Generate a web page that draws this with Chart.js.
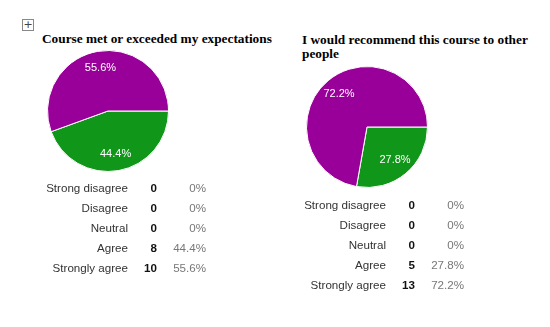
<!DOCTYPE html>
<html>
<head>
<meta charset="utf-8">
<script src="https://cdn.jsdelivr.net/npm/chart.js@4"></script>
<style>
  body { margin: 0; background: #fff; width: 550px; height: 327px; position: relative; overflow: hidden; font-family: "Liberation Sans", Arial, sans-serif; }
  .handle { position: absolute; left: 22px; top: 19px; width: 10px; height: 10px; border: 1px solid #888; font: 11px/10px "DejaVu Sans", sans-serif; text-align: center; color: #444; }
  .title { position: absolute; font: bold 13.3px/14px "Liberation Serif", serif; color: #000; }
  .pie { position: absolute; width: 122px; height: 122px; }
  .row { position: absolute; height: 16px; line-height: 16px; font-size: 11.6px; }
  .row span { position: absolute; top: 0; white-space: nowrap; text-align: right; }
  .lbl { color: #333; }
  .cnt { color: #111; font-weight: bold; }
  .pct { color: #777; }
</style>
</head>
<body>
<div class="handle">+</div>
<div class="title" id="title1" style="left:42px; top:32px;"></div>
<div class="title" id="title2" style="left:302px; top:33px; width:240px;"></div>
<div class="pie" style="left:47px; top:50px;"><canvas id="pie1"></canvas></div>
<div class="pie" style="left:306px; top:66px;"><canvas id="pie2"></canvas></div>
<div id="table1"></div>
<div id="table2"></div>
<script>
// Survey answers
const categories = ['Strong disagree', 'Disagree', 'Neutral', 'Agree', 'Strongly agree'];
const expectationCounts = [0, 0, 0, 8, 10];
const recommendCounts = [0, 0, 0, 5, 13];
const sliceColors = ['#3366cc', '#dc3912', '#ff9900', '#109618', '#990099'];
const titles = ['Course met or exceeded my expectations', 'I would recommend this course to other people'];

function percentText(value, total) {
    if (!value) return '0%';
    return (value / total * 100).toFixed(1) + '%';
}

// Draw percentage labels inside slices
const sliceLabels = {
    id: 'sliceLabels',
    afterDatasetsDraw(chart) {
        const ctx = chart.ctx;
        const data = chart.data.datasets[0].data;
        const total = data.reduce((a, b) => a + b, 0);
        chart.getDatasetMeta(0).data.forEach((arc, i) => {
            if (!data[i]) return;
            const mid = (arc.startAngle + arc.endAngle) / 2;
            const r = arc.outerRadius * 0.72;
            ctx.save();
            ctx.fillStyle = '#fff';
            ctx.font = '11px "Liberation Sans", Arial, sans-serif';
            ctx.textAlign = 'center';
            ctx.textBaseline = 'middle';
            ctx.fillText(percentText(data[i], total), arc.x + Math.cos(mid) * r, arc.y + Math.sin(mid) * r);
            ctx.restore();
        });
    }
};

function renderPie(id, counts) {
    new Chart(document.getElementById(id), {
        type: 'pie',
        data: {
            labels: categories,
            datasets: [{
                data: counts,
                backgroundColor: sliceColors,
                borderColor: '#fff',
                borderWidth: 1
            }]
        },
        options: {
            responsive: true,
            maintainAspectRatio: false,
            animation: false,
            rotation: 90,
            plugins: { legend: { display: false }, tooltip: { enabled: false } }
        },
        plugins: [sliceLabels]
    });
}

function renderTable(id, counts, top, xs) {
    const total = counts.reduce((a, b) => a + b, 0);
    const holder = document.getElementById(id);
    categories.forEach((cat, i) => {
        const row = document.createElement('div');
        row.className = 'row';
        row.style.top = (top + i * 20 - 8) + 'px';
        row.style.left = '0px';
        row.style.width = '550px';
        const cells = [
            ['lbl', cat, xs[0]],
            ['cnt', String(counts[i]), xs[1]],
            ['pct', percentText(counts[i], total), xs[2]]
        ];
        cells.forEach(([cls, text, right]) => {
            const s = document.createElement('span');
            s.className = cls;
            s.textContent = text;
            s.style.right = (550 - right) + 'px';
            row.appendChild(s);
        });
        holder.appendChild(row);
    });
}

document.getElementById('title1').textContent = titles[0];
document.getElementById('title2').textContent = titles[1];
renderPie('pie1', expectationCounts);
renderPie('pie2', recommendCounts);
renderTable('table1', expectationCounts, 188, [128, 157, 206]);
renderTable('table2', recommendCounts, 205, [386, 415, 464]);
</script>
</body>
</html>
